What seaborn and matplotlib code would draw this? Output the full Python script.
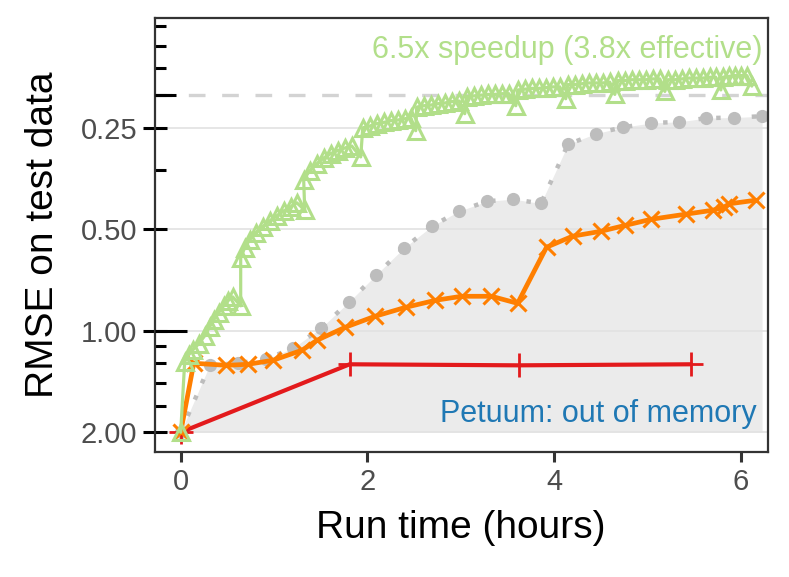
import seaborn as sns
import matplotlib.pyplot as plt
from matplotlib.ticker import FixedLocator, NullFormatter

sns.set_style("white")
plt.rcParams['font.family'] = ['Liberation Sans', 'DejaVu Sans']

# baseline (gray, shaded)
gray_hours = [0, 0.31, 0.61, 0.91, 1.20, 1.50, 1.80, 2.09, 2.39, 2.69, 2.98,
              3.28, 3.56, 3.86, 4.15, 4.45, 4.74, 5.04, 5.34, 5.63, 5.93, 6.23]
gray_rmse = [2.00, 1.266, 1.248, 1.215, 1.127, 0.983, 0.823, 0.684, 0.569, 0.490, 0.442,
             0.413, 0.407, 0.419, 0.280, 0.260, 0.249, 0.242, 0.240, 0.234, 0.233, 0.231]

# orange
orange_hours = [0, 0.14, 0.49, 0.72, 0.99, 1.30, 1.46, 1.76, 2.08, 2.41, 2.73, 3.01,
                3.33, 3.61, 3.92, 4.20, 4.50, 4.76, 5.04, 5.41, 5.70, 5.82, 5.88, 6.16]
orange_rmse = [2.00, 1.248, 1.266, 1.257, 1.223, 1.142, 1.067, 0.977, 0.906, 0.852, 0.812, 0.790,
               0.790, 0.829, 0.565, 0.524, 0.507, 0.487, 0.467, 0.451, 0.439, 0.430, 0.420, 0.410]

# petuum (red)
red_hours = [0, 1.81, 3.62, 5.47]
red_rmse = [2.00, 1.257, 1.266, 1.257]

# green, 6.5x speedup
green_hours = [0,
               0.043, 0.086, 0.129, 0.193, 0.257, 0.311, 0.354, 0.407, 0.461, 0.504, 0.557, 0.643,
               0.643, 0.686, 0.740, 0.804, 0.879, 0.954, 1.029, 1.104, 1.179, 1.243, 1.329,
               1.318, 1.383, 1.458, 1.533, 1.608, 1.683, 1.758, 1.833, 1.929,
               1.951, 2.026, 2.101, 2.176, 2.251, 2.326, 2.401, 2.465, 2.519,
               2.529, 2.604, 2.680, 2.755, 2.830, 2.905, 2.980, 3.044,
               3.065, 3.140, 3.215, 3.290, 3.365, 3.441, 3.516, 3.591,
               3.612, 3.687, 3.762, 3.837, 3.912, 3.987, 4.062, 4.126,
               4.148, 4.223, 4.298, 4.373, 4.448, 4.523, 4.598, 4.652,
               4.684, 4.759, 4.834, 4.909, 4.984, 5.059, 5.134, 5.188,
               5.220, 5.295, 5.370, 5.445, 5.520, 5.595, 5.670, 5.734, 5.788,
               5.809, 5.874, 5.938, 6.002, 6.067, 6.120]
green_rmse = [2.00,
              1.236, 1.178, 1.139, 1.093, 1.035, 0.973, 0.928, 0.884, 0.843, 0.815, 0.793, 0.843,
              0.607, 0.567, 0.537, 0.512, 0.491, 0.472, 0.456, 0.441, 0.429, 0.417, 0.438,
              0.356, 0.335, 0.320, 0.307, 0.298, 0.292, 0.287, 0.283, 0.305,
              0.250, 0.247, 0.243, 0.241, 0.238, 0.237, 0.235, 0.233, 0.255,
              0.217, 0.215, 0.214, 0.212, 0.211, 0.209, 0.208, 0.227,
              0.202, 0.201, 0.200, 0.199, 0.199, 0.198, 0.198, 0.215,
              0.193, 0.192, 0.191, 0.191, 0.190, 0.189, 0.189, 0.205,
              0.186, 0.186, 0.185, 0.184, 0.184, 0.184, 0.183, 0.199,
              0.181, 0.181, 0.180, 0.180, 0.180, 0.179, 0.179, 0.195,
              0.180, 0.180, 0.179, 0.178, 0.178, 0.178, 0.177, 0.177, 0.193,
              0.177, 0.176, 0.175, 0.175, 0.175, 0.188]

target_rmse = 0.2
y_ticks = [0.25, 0.5, 1.0, 2.0]
y_ticklabels = ['0.25', '0.50', '1.00', '2.00']
y_minor = [1/0.9, 1/0.8, 1/0.7, 1/0.6, 1/3, 1/5, 1/6, 1/7, 1/8]
x_ticks = [0, 2, 4, 6]

fig, ax = plt.subplots(figsize=(7.89, 5.77), dpi=100)
fig.subplots_adjust(left=0.196, right=0.973, top=0.969, bottom=0.217)
ax.set_yscale('log')

ax.fill_between(gray_hours, gray_rmse, 2.0, color='#ebebeb', lw=0, zorder=0.2)
ax.axhline(target_rmse, color='#d3d3d3', linewidth=2.4, ls=(0, (5, 5)), zorder=1)

sns.lineplot(x=gray_hours, y=gray_rmse, ax=ax, color='#bdbdbd', linewidth=3.2,
             linestyle=(0, (1, 3)), marker='o', markersize=9.5,
             markeredgecolor='#bdbdbd', markeredgewidth=0, sort=False, estimator=None)
sns.lineplot(x=red_hours, y=red_rmse, ax=ax, color='#e31a1c', linewidth=3.0,
             marker='+', markersize=17, markeredgecolor='#e31a1c', markeredgewidth=2.0,
             sort=False, estimator=None)
sns.lineplot(x=orange_hours, y=orange_rmse, ax=ax, color='#ff7f00', linewidth=3.4,
             marker='x', markersize=11, markeredgecolor='#ff7f00', markeredgewidth=2.2,
             sort=False, estimator=None)
sns.lineplot(x=green_hours, y=green_rmse, ax=ax, color='#b2df8a', linewidth=2.3,
             marker='^', markersize=11.5, markeredgecolor='#b2df8a', markerfacecolor='none',
             markeredgewidth=2.2, sort=False, estimator=None)

ax.text(0.992, 0.908, '6.5x speedup (3.8x effective)', transform=ax.transAxes,
        ha='right', va='baseline', color='#b2df8a', fontsize=22)
ax.text(0.982, 0.069, 'Petuum: out of memory', transform=ax.transAxes,
        ha='right', va='baseline', color='#1f78b4', fontsize=22)

ax.set_ylim(2.285, 0.118)
ax.set_xlim(-0.279, 6.29)
ax.set_yticks(y_ticks)
ax.set_yticklabels(y_ticklabels)
ax.yaxis.set_minor_locator(FixedLocator(y_minor))
ax.yaxis.set_minor_formatter(NullFormatter())
ax.set_xticks(x_ticks)

ax.set_axisbelow(True)
ax.yaxis.grid(True, which='major', color='#e2e2e2', lw=1.2)
ax.xaxis.grid(False)

ax.tick_params(axis='y', which='both', left=True)
ax.tick_params(axis='x', which='major', bottom=True)
ax.tick_params(axis='y', which='major', direction='inout', length=17, width=2.2,
               color='black', labelsize=21, labelcolor='#4d4d4d', pad=4)
ax.tick_params(axis='y', which='minor', direction='in', length=8, width=2.2, color='black')
ax.tick_params(axis='x', which='major', direction='out', length=7, width=2.2,
               color='#333333', labelsize=21, labelcolor='#4d4d4d', pad=5)

# longer marks at 1.00 and at the target line
ytrans = ax.get_yaxis_transform()
ax.plot([0, 32 / 613], [1.0, 1.0], transform=ytrans, color='black', lw=2.2,
        solid_capstyle='butt', clip_on=False, zorder=5)
ax.plot([0, 21 / 613], [target_rmse, target_rmse], transform=ytrans, color='black', lw=2.2,
        solid_capstyle='butt', clip_on=False, zorder=5)

for s in ax.spines.values():
    s.set_color('#333333')
    s.set_linewidth(1.6)

ax.set_xlabel('Run time (hours)', fontsize=28, color='black', labelpad=10)
ax.set_ylabel('RMSE on test data', fontsize=28, color='black', labelpad=14)

fig.savefig('out.png', dpi=100)
